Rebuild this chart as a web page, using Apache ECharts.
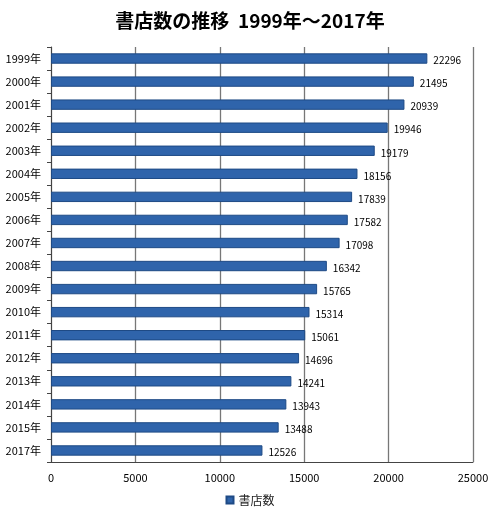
<!DOCTYPE html>
<html>
<head>
<meta charset="utf-8">
<script src="https://cdn.jsdelivr.net/npm/echarts@6/dist/echarts.min.js"></script>
<style>
html, body { margin: 0; padding: 0; background: #fff; }
#main { width: 500px; height: 517px; }
</style>
</head>
<body>
<div id="main"></div>
<script>
// 書店数の推移
var years = ['1999年', '2000年', '2001年', '2002年', '2003年', '2004年', '2005年', '2006年', '2007年',
    '2008年', '2009年', '2010年', '2011年', '2012年', '2013年', '2014年', '2015年', '2017年'];
var stores = [22296, 21495, 20939, 19946, 19179, 18156, 17839, 17582, 17098,
    16342, 15765, 15314, 15061, 14696, 14241, 13943, 13488, 12526];

var font = '"Noto Sans CJK JP", "Noto Sans", sans-serif';

var chart = echarts.init(document.getElementById('main'));

var option = {
    backgroundColor: '#fff',
    animation: false,
    title: {
        text: '書店数の推移  1999年～2017年',
        left: 'center',
        top: 6,
        textStyle: { fontFamily: font, fontSize: 19, fontWeight: 'bold', color: '#000' }
    },
    legend: {
        bottom: 6,
        left: 'center',
        data: ['書店数'],
        itemWidth: 7,
        itemHeight: 7,
        itemGap: 4,
        icon: 'rect',
        textStyle: { fontFamily: font, fontSize: 12, color: '#222' }
    },
    grid: {
        left: 51,
        right: 27,
        top: 47,
        bottom: 55
    },
    xAxis: {
        type: 'value',
        min: 0,
        max: 25000,
        interval: 5000,
        axisLine: { show: true, lineStyle: { color: '#444', width: 1 } },
        axisTick: { show: false },
        axisLabel: {
            fontFamily: font, fontSize: 11, color: '#000', margin: 10,
            formatter: function (v) { return String(v); }
        },
        splitLine: { show: true, lineStyle: { color: '#777', width: 1.3 } }
    },
    yAxis: {
        type: 'category',
        inverse: true,
        data: years,
        axisLine: { show: true, lineStyle: { color: '#444', width: 1 } },
        axisTick: { show: true, inside: false, length: 4, lineStyle: { color: '#444' } },
        axisLabel: { fontFamily: font, fontSize: 11, color: '#000', margin: 10 }
    },
    series: [
        {
            name: '書店数',
            type: 'bar',
            data: stores,
            barWidth: '45%',
            itemStyle: { color: '#2f64ab', borderColor: '#1e4a85', borderWidth: 1 },
            label: {
                show: true,
                position: 'right',
                distance: 6,
                offset: [0, 2],
                fontFamily: font,
                fontSize: 10,
                color: '#000'
            }
        }
    ]
};

chart.setOption(option);
</script>
</body>
</html>
